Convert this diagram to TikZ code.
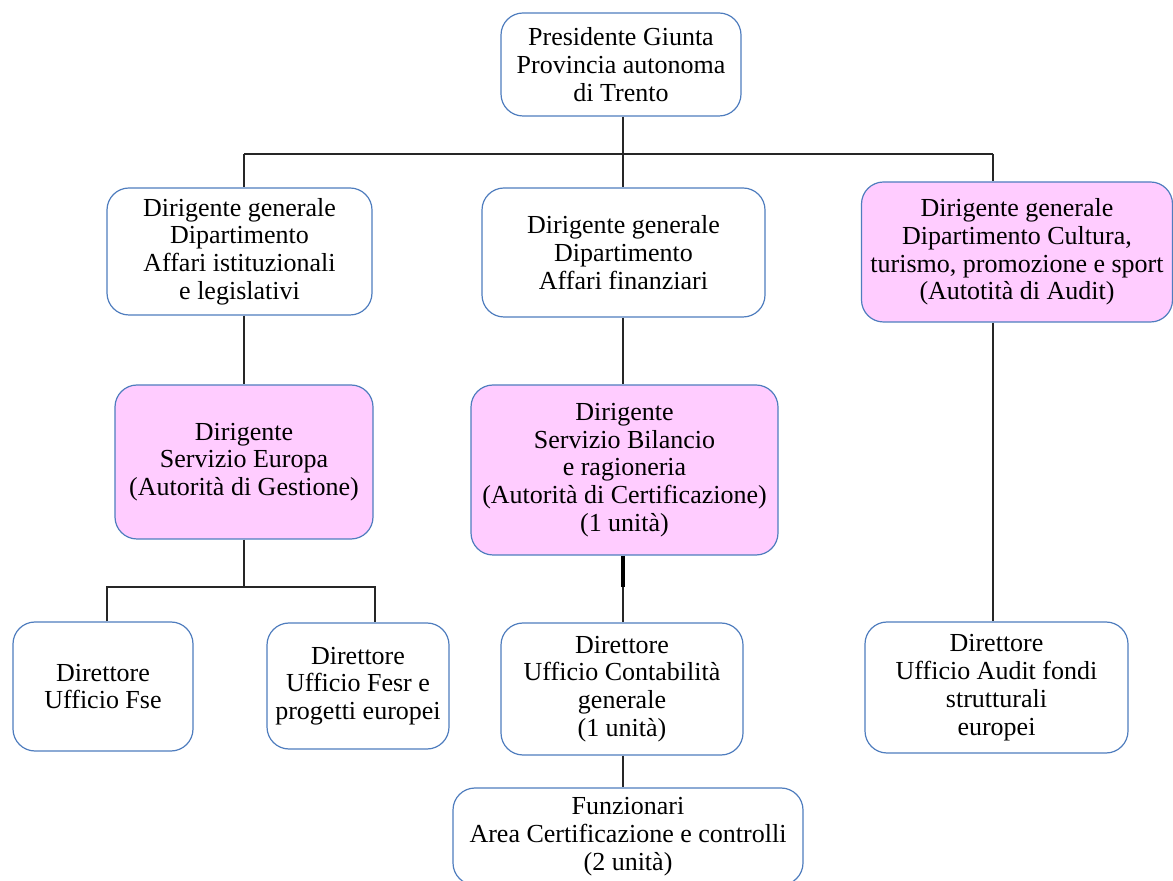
\documentclass[tikz,border=0pt]{standalone}
\usepackage{fontspec}
\setmainfont{Liberation Serif}
\usetikzlibrary{calc}
\definecolor{boxline}{RGB}{79,125,190}
\definecolor{authpink}{RGB}{255,204,255}
\tikzstyle{box}=[rectangle, rounded corners=11pt, draw=boxline, line width=0.6pt, fill=white, inner sep=0pt, align=center, anchor=center, font=\fontsize{13}{13.9}\selectfont]
\tikzstyle{auth}=[box, fill=authpink]
\tikzstyle{link}=[black!85, line width=0.55pt]

\begin{document}
\begin{tikzpicture}[x=0.5pt, y=-0.5pt]
	\useasboundingbox (0,0) rectangle (1173,881);

	% top level
	\node[box, minimum width=120pt, minimum height=51.5pt](pres) at (621,64.5){Presidente Giunta\\Provincia autonoma\\di Trento};

	% departments
	\node[box, minimum width=132.5pt, minimum height=63.5pt](dgaff) at (239.5,251.5){Dirigente generale\\Dipartimento\\Affari istituzionali\\e legislativi};
	\node[box, minimum width=141.5pt, minimum height=64.5pt](dgfin) at (623.5,252.5){Dirigente generale\\Dipartimento\\Affari finanziari};
	\node[auth, minimum width=155.5pt, minimum height=70pt](dgcult) at (1017,252){Dirigente generale\\Dipartimento Cultura,\\turismo, promozione e sport\\(Autotità di Audit)};

	% services
	\node[auth, minimum width=129pt, minimum height=77pt](europa) at (244,462){Dirigente\\Servizio Europa\\(Autorità di Gestione)};
	\node[auth, minimum width=153.5pt, minimum height=85pt](bilancio) at (624.5,470){Dirigente\\Servizio Bilancio\\e ragioneria\\(Autorità di Certificazione)\\(1 unità)};

	% offices
	\node[box, minimum width=90pt, minimum height=64.5pt](fse) at (103,686.5){Direttore\\Ufficio Fse};
	\node[box, minimum width=91pt, minimum height=63pt](fesr) at (358,686){Direttore\\Ufficio Fesr e\\progetti europei};
	\node[box, minimum width=121pt, minimum height=66pt](contab) at (622,689){Direttore\\Ufficio Contabilità\\generale\\(1 unità)};
	\node[box, minimum width=131.5pt, minimum height=65.5pt](audit) at (996.5,687.5){Direttore\\Ufficio Audit fondi\\strutturali\\europei};
	\node[box, minimum width=175pt, minimum height=48.5pt](funz) at (628,836.5){Funzionari\\Area Certificazione e controlli\\(2 unità)};

	% connectors
	\coordinate (bus) at (623,154);
	\coordinate (lbus) at (244,154);
	\coordinate (rbus) at (993,154);
	\draw[link] (pres.south -| bus) -- (bus);
	\draw[link] (lbus) -- (rbus);
	\draw[link] (lbus) -- (lbus |- dgaff.north);
	\draw[link] (bus) -- (bus |- dgfin.north);
	\draw[link] (rbus) -- (rbus |- dgcult.north);

	\draw[link] (dgaff.south -| lbus) -- (europa.north -| lbus);
	\draw[link] (dgfin.south -| bus) -- (bilancio.north -| bus);
	\draw[link] (dgcult.south -| rbus) -- (audit.north -| rbus);

	\coordinate (ebus) at (244,587);
	\coordinate (fsetop) at (107,587);
	\coordinate (fesrtop) at (375,587);
	\draw[link] (europa.south -| ebus) -- (ebus);
	\draw[link] (fse.north -| fsetop) -- (fsetop) -- (fesrtop) -- (fesr.north -| fesrtop);

	\coordinate (mid) at (623,587);
	\draw[line width=1.6pt] (bilancio.south -| mid) -- (mid);
	\draw[link] (mid) -- (contab.north -| mid);
	\draw[link] (contab.south -| bus) -- (funz.north -| bus);

\end{tikzpicture}
\end{document}
